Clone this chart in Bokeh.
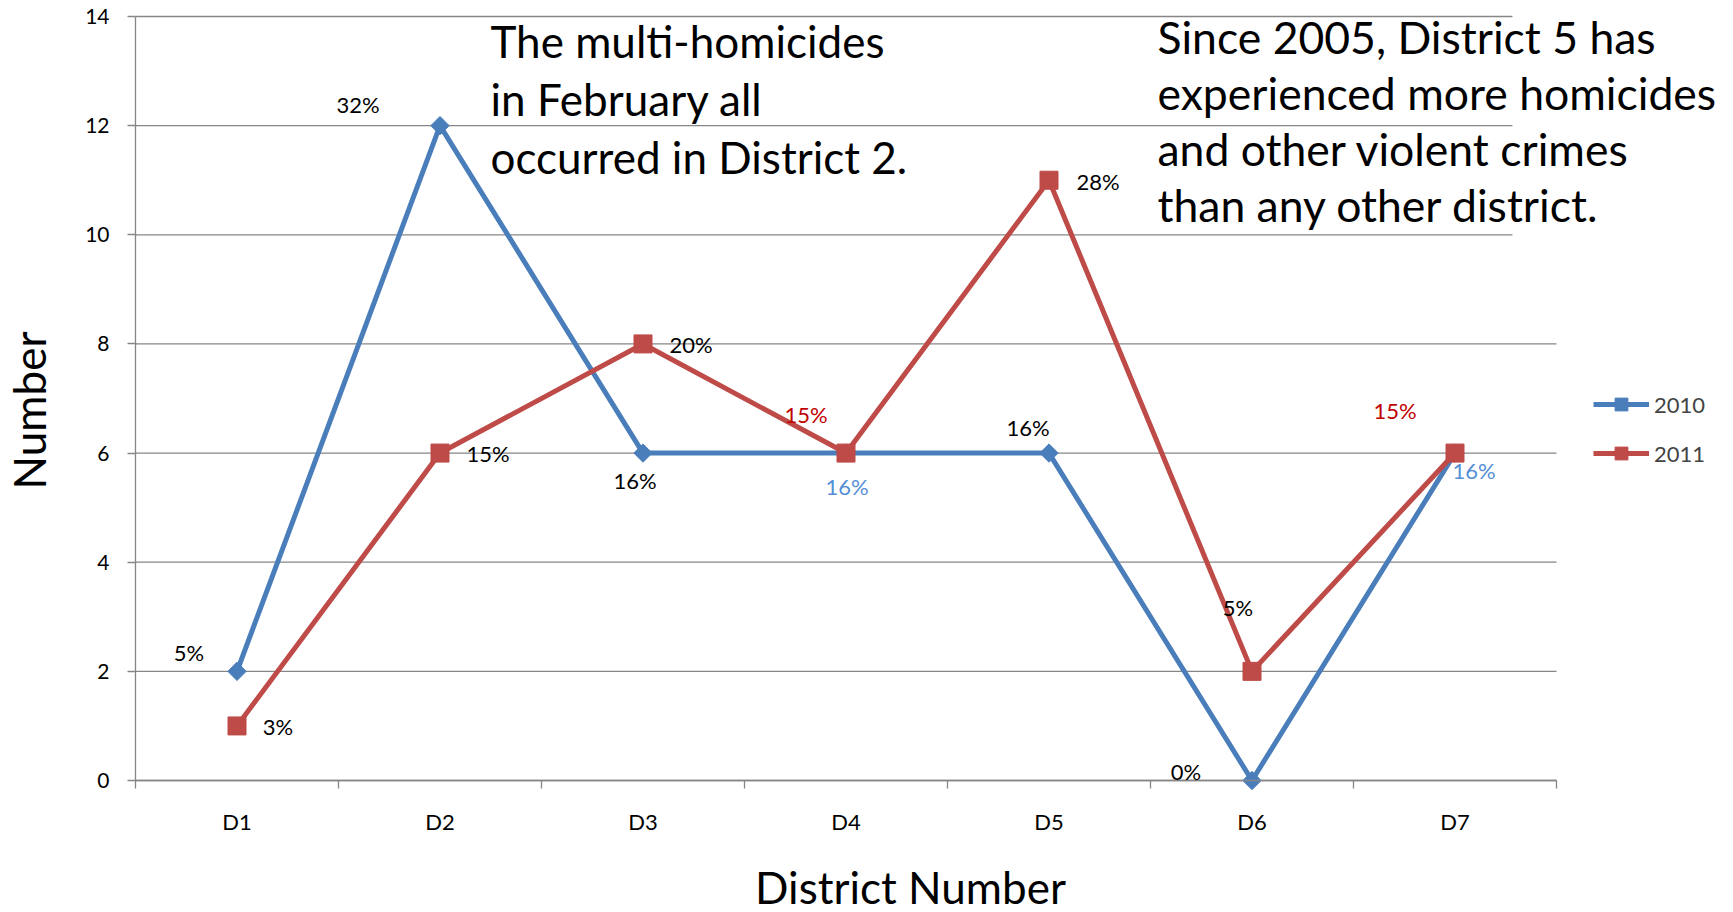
import math
from bokeh.plotting import figure
from bokeh.models import (ColumnDataSource, Range1d, FixedTicker, Label, LabelSet,
                          Legend, LegendItem, BoxAnnotation)
from bokeh.core.properties import value
from bokeh.embed import file_html
from bokeh.resources import INLINE

# ---------------- data ----------------
districts = ["D1", "D2", "D3", "D4", "D5", "D6", "D7"]
counts_2010 = [2, 12, 6, 6, 6, 0, 6]
counts_2011 = [1, 6, 8, 6, 11, 2, 6]
pct_2010 = ["5%", "32%", "16%", "16%", "16%", "0%", "16%"]
pct_2011 = ["3%", "15%", "20%", "15%", "28%", "5%", "15%"]
y_ticks = [0, 2, 4, 6, 8, 10, 12, 14]
series_names = ["2010", "2011"]
note_left = ["The multi-homicides", "in February  all", "occurred in District 2."]
note_right = ["Since 2005, District 5 has", "experienced more homicides",
              "and other violent crimes", "than any other district."]
x_title = "District Number"
y_title = "Number"

# ---------------- styles / layout ----------------
FONT = "Lato"
BLUE = "#4A7EBB"
RED = "#BE4B48"
GRID = "#868686"
W, H = 1733, 912
PX_L, PX_R, PX_T, PX_B = 135, 1556, 16, 780   # plot area in pixels
# label offsets in pixels (dx right, dy up) and colours
off_2010 = [(-48, 19), (-82, 21), (-8, -27), (1, -33), (-21, 26), (-66, 9), (19, -17)]
off_2011 = [(41, -1), (48, 0), (48, -1), (-40, 39), (49, -1), (-14, 64), (-60, 43)]
col_2010 = ["black", "black", "black", "#558ED5", "black", "black", "#558ED5"]
col_2011 = ["black", "black", "black", "#C00000", "black", "black", "#C00000"]

n = len(districts)
xs = list(range(1, n + 1))
y_max = y_ticks[-1]
xppu = (PX_R - PX_L) / n
yppu = (PX_B - PX_T) / y_max
x_range = Range1d(0.5 - PX_L / xppu, n + 0.5 + (W - PX_R) / xppu)
y_range = Range1d(-(H - PX_B) / yppu, y_max + PX_T / yppu)

p = figure(width=W, height=H, output_backend="svg", toolbar_location=None,
           x_range=x_range, y_range=y_range,
           min_border_left=0, min_border_right=0, min_border_top=0, min_border_bottom=0)
p.outline_line_color = None
p.background_fill_color = "white"
p.border_fill_color = "white"
p.xgrid.visible = False
p.ygrid.visible = False

# gridlines limited to the plot area
p.segment(x0=[0.5] * len(y_ticks), x1=[n + 0.5] * len(y_ticks), y0=y_ticks, y1=y_ticks,
          line_color=GRID, line_width=1.3)
# white box behind right note (covers gridlines at top right)
p.add_layout(BoxAnnotation(left=7.283, right=n + 0.6, bottom=9.3, top=y_max + 1,
                           fill_color="white", fill_alpha=1.0, line_color=None))

# axes
xa = p.xaxis[0]
xa.fixed_location = 0
xa.bounds = (0.5, n + 0.5)
xa.ticker = FixedTicker(ticks=xs, minor_ticks=[x - 0.5 for x in xs] + [xs[-1] + 0.5])
xa.major_label_overrides = {x: d for x, d in zip(xs, districts)}
xa.axis_line_color = GRID
xa.axis_line_width = 1.3
xa.major_tick_line_color = None
xa.major_tick_out = 0
xa.major_tick_in = 0
xa.minor_tick_line_color = GRID
xa.minor_tick_line_width = 1.3
xa.minor_tick_out = 8
xa.minor_tick_in = 0
xa.major_label_standoff = 19
xa.major_label_text_font = FONT
xa.major_label_text_font_size = "22px"
xa.major_label_text_color = "black"

ya = p.yaxis[0]
ya.fixed_location = 0.5
ya.bounds = (0, y_max)
ya.ticker = FixedTicker(ticks=y_ticks)
ya.axis_line_color = GRID
ya.axis_line_width = 1.3
ya.major_tick_line_color = GRID
ya.major_tick_line_width = 1.3
ya.major_tick_out = 8
ya.major_tick_in = 0
ya.minor_tick_line_color = None
ya.major_label_standoff = 18
ya.major_label_text_font = FONT
ya.major_label_text_font_size = "21px"
ya.major_label_text_color = "black"

# series
src10 = ColumnDataSource(dict(x=xs, y=counts_2010, t=pct_2010,
                              dx=[o[0] for o in off_2010], dy=[o[1] for o in off_2010],
                              c=col_2010))
src11 = ColumnDataSource(dict(x=xs, y=counts_2011, t=pct_2011,
                              dx=[o[0] for o in off_2011], dy=[o[1] for o in off_2011],
                              c=col_2011))

l10 = p.line("x", "y", source=src10, line_color=BLUE, line_width=5, line_join="round")
l11 = p.line("x", "y", source=src11, line_color=RED, line_width=5, line_join="round")
m10 = p.scatter("x", "y", source=src10, marker="square", angle=math.pi / 4, size=13,
                fill_color=BLUE, line_color=BLUE)
m11 = p.scatter("x", "y", source=src11, marker="square", size=18,
                fill_color=RED, line_color=RED)

for src in (src10, src11):
    p.add_layout(LabelSet(x="x", y="y", text="t", source=src, x_offset="dx", y_offset="dy",
                          text_align="center", text_baseline="middle",
                          text_font=value(FONT), text_font_size=value("22px"),
                          text_color="c"))

legend = Legend(items=[LegendItem(label=series_names[0], renderers=[l10, m10]),
                       LegendItem(label=series_names[1], renderers=[l11, m11])],
                location=(1593, 443), orientation="vertical",
                border_line_color=None, background_fill_alpha=0,
                padding=0, margin=0, glyph_width=56, glyph_height=32,
                label_height=32, spacing=17, label_standoff=5,
                label_text_font=FONT, label_text_font_size="22px")
p.add_layout(legend)

# notes (y = screen px from bottom, at the middle of capitals)
for i, line in enumerate(note_left):
    p.add_layout(Label(x=490, y=H - 40 - 58 * i, x_units="screen", y_units="screen",
                       text=line, text_font=FONT, text_font_size="44px",
                       text_baseline="middle", text_align="left", text_color="black"))
for i, line in enumerate(note_right):
    p.add_layout(Label(x=1157, y=H - 36 - 56 * i, x_units="screen", y_units="screen",
                       text=line, text_font=FONT, text_font_size="44.5px",
                       text_baseline="middle", text_align="left", text_color="black"))

# axis titles
p.add_layout(Label(x=910, y=H - 886, x_units="screen", y_units="screen", text=x_title,
                   text_font=FONT, text_font_size="44px", text_baseline="middle",
                   text_align="center", text_color="black"))
p.add_layout(Label(x=28, y=H - 410, x_units="screen", y_units="screen", text=y_title,
                   angle=math.pi / 2, text_font=FONT, text_font_size="44px",
                   text_baseline="middle", text_align="center", text_color="black"))

open("out.html", "w").write(file_html(p, INLINE))
